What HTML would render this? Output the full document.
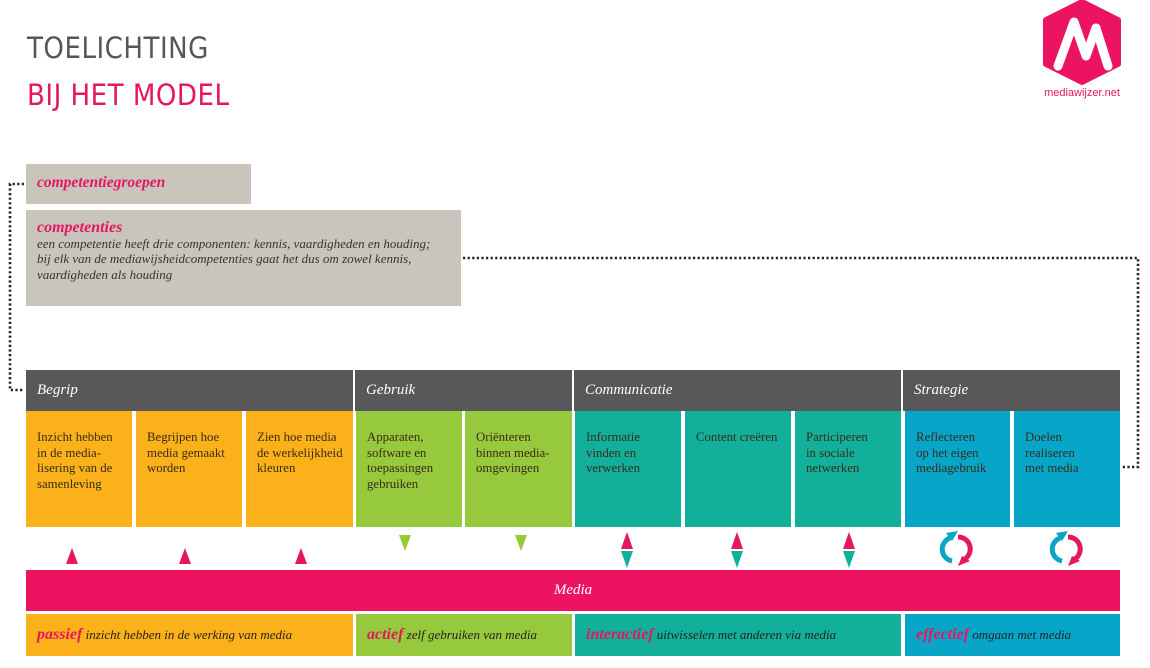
<!DOCTYPE html>
<html><head><meta charset="utf-8"><style>
*{margin:0;padding:0;box-sizing:border-box}
body{width:1150px;height:668px;background:#fff;position:relative;overflow:hidden;font-family:"Liberation Serif",serif}
.a{position:absolute}
.t{font-family:"DejaVu Sans Condensed","Liberation Sans",sans-serif;font-size:29px;letter-spacing:0.5px;font-weight:normal}
.cell{position:absolute;top:411px;height:116px;padding:19px 0 0 11px;font-size:12.8px;line-height:15.5px;color:#3a2a1a;white-space:nowrap}
.hd{position:absolute;top:370px;height:41px;background:#58585a;color:#fff;font-style:italic;font-size:15px;padding:12px 0 0 11px}
.bt{position:absolute;top:614px;height:42px;padding:12px 0 0 11px;font-style:italic;font-size:13px;color:#222}
.bt b{color:#e5175f;font-size:16px}
</style></head><body>
<div class="a t" style="left:27px;top:31px;color:#55575a">TOELICHTING</div>
<div class="a t" style="left:27px;top:78px;color:#e5175f">BIJ HET MODEL</div>

<svg class="a" style="left:1040px;top:0" width="85" height="100" viewBox="0 0 85 100">
<polygon points="42,2 78,20 78,64 42,82 6,64 6,20" fill="#ec1461" stroke="#ec1461" stroke-width="6" stroke-linejoin="round"/>
<path d="M18,66 L34,22 L46,56 L56,28 L68,66" fill="none" stroke="#fff" stroke-width="9" stroke-linecap="round" stroke-linejoin="round"/>
<text x="42" y="96" font-family="Liberation Sans,sans-serif" font-size="11" fill="#e5175f" text-anchor="middle">mediawijzer.net</text>
</svg>

<div class="a" style="left:26px;top:164px;width:225px;height:40px;background:#c9c5bc;padding:10px 0 0 11px;font-style:italic;font-weight:bold;color:#e5175f;font-size:15.5px">competentiegroepen</div>
<div class="a" style="left:26px;top:210px;width:435px;height:96px;background:#c9c5bc;padding:10px 0 0 11px;font-style:italic;color:#333;font-size:13px;line-height:15.5px;white-space:nowrap"><span style="color:#e5175f;font-weight:bold;font-size:16px">competenties</span><br>een competentie heeft drie componenten: kennis, vaardigheden en houding;<br>bij elk van de mediawijsheidcompetenties gaat het dus om zowel kennis,<br>vaardigheden als houding</div>

<svg class="a" style="left:0;top:0" width="1150" height="668">
<g fill="none" stroke="#222" stroke-width="2.6" stroke-dasharray="2.2,2.4">
<path d="M24,184 H10 V390 H24"/>
<path d="M463,258 H1138 V467 H1122"/>
</g>
<g fill="#e5175f">
<polygon points="72,548 66,564 78,564"/><polygon points="185,548 179,564 191,564"/><polygon points="301,548 295,564 307,564"/>
<polygon points="627,532 621,549 633,549"/><polygon points="737,532 731,549 743,549"/><polygon points="849,532 843,549 855,549"/>
</g>
<g fill="#97c93d"><polygon points="399,535 411,535 405,551"/><polygon points="515,535 527,535 521,551"/></g>
<g fill="#12b09a"><polygon points="621,551 633,551 627,568"/><polygon points="731,551 743,551 737,568"/><polygon points="843,551 855,551 849,568"/></g>
<g stroke-width="5" fill="none">
<path d="M952,561 A12,12 0 0 1 950,538" stroke="#07a6c9"/><path d="M958,537 A12,12 0 0 1 963,560" stroke="#e5175f"/>
<path d="M1062,561 A12,12 0 0 1 1060,538" stroke="#07a6c9"/><path d="M1068,537 A12,12 0 0 1 1073,560" stroke="#e5175f"/>
</g>
<polygon points="946,533 958,531 952,541" fill="#07a6c9"/><polygon points="958,566 970,561 962,556" fill="#e5175f"/>
<polygon points="1056,533 1068,531 1062,541" fill="#07a6c9"/><polygon points="1068,566 1080,561 1072,556" fill="#e5175f"/>
</svg>

<div class="hd" style="left:26px;width:327px">Begrip</div>
<div class="hd" style="left:355px;width:217px">Gebruik</div>
<div class="hd" style="left:574px;width:327px">Communicatie</div>
<div class="hd" style="left:903px;width:217px">Strategie</div>

<div class="cell" style="left:26px;width:106px;background:#fbb11a">Inzicht hebben<br>in de media-<br>lisering van de<br>samenleving</div>
<div class="cell" style="left:136px;width:106px;background:#fbb11a">Begrijpen hoe<br>media gemaakt<br>worden</div>
<div class="cell" style="left:246px;width:107px;background:#fbb11a">Zien hoe media<br>de werkelijkheid<br>kleuren</div>
<div class="cell" style="left:356px;width:106px;background:#97c93d">Apparaten,<br>software en<br>toepassingen<br>gebruiken</div>
<div class="cell" style="left:465px;width:107px;background:#97c93d">Oriënteren<br>binnen media-<br>omgevingen</div>
<div class="cell" style="left:575px;width:106px;background:#12b09a">Informatie<br>vinden en<br>verwerken</div>
<div class="cell" style="left:685px;width:106px;background:#12b09a">Content creëren</div>
<div class="cell" style="left:795px;width:106px;background:#12b09a">Participeren<br>in sociale<br>netwerken</div>
<div class="cell" style="left:905px;width:105px;background:#07a6c9">Reflecteren<br>op het eigen<br>mediagebruik</div>
<div class="cell" style="left:1014px;width:106px;background:#07a6c9">Doelen<br>realiseren<br>met media</div>

<div class="a" style="left:26px;top:570px;width:1094px;height:41px;background:#ec1461;color:#fff;font-style:italic;font-size:15px;text-align:center;padding-top:12px">Media</div>

<div class="bt" style="left:26px;width:327px;background:#fbb11a"><b>passief</b> inzicht hebben in de werking van media</div>
<div class="bt" style="left:356px;width:216px;background:#97c93d"><b>actief</b> zelf gebruiken van media</div>
<div class="bt" style="left:575px;width:326px;background:#12b09a"><b>interactief</b> uitwisselen met anderen via media</div>
<div class="bt" style="left:905px;width:215px;background:#07a6c9"><b>effectief</b> omgaan met media</div>
</body></html>
